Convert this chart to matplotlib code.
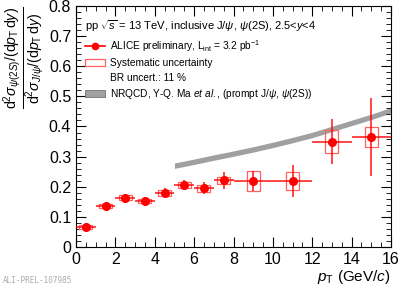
import numpy as np
import matplotlib
matplotlib.use('Agg')
from matplotlib import pyplot as plt
from matplotlib.patches import Rectangle, Patch
from matplotlib.lines import Line2D
from matplotlib.ticker import MultipleLocator

plt.rcParams['font.family'] = ['Liberation Sans', 'DejaVu Sans']
plt.rcParams['mathtext.fontset'] = 'custom'
plt.rcParams['mathtext.rm'] = 'Liberation Sans'
plt.rcParams['mathtext.it'] = 'Liberation Sans:italic'
plt.rcParams['mathtext.bf'] = 'Liberation Sans:bold'

# ===== данные =====
pt_lo = [0, 1, 2, 3, 4, 5, 6, 7, 8, 10, 12, 14]
pt_hi = [1, 2, 3, 4, 5, 6, 7, 8, 10, 12, 14, 16]
pt_c = [0.5, 1.5, 2.5, 3.5, 4.5, 5.5, 6.5, 7.5, 9, 11, 13, 15]
ratio = [0.067, 0.137, 0.163, 0.153, 0.180, 0.206, 0.195, 0.222, 0.218, 0.219, 0.350, 0.366]
stat = [0.012, 0.008, 0.012, 0.012, 0.017, 0.018, 0.020, 0.028, 0.033, 0.052, 0.076, 0.130]
syst = [0.006, 0.006, 0.008, 0.007, 0.010, 0.010, 0.012, 0.012, 0.033, 0.030, 0.037, 0.033]
box_hw = 0.33

nrqcd_pt = [5, 6, 7, 8, 9, 10, 11, 12, 13, 14, 15, 16]
nrqcd_c = [0.270, 0.283, 0.297, 0.310, 0.324, 0.339, 0.355, 0.372, 0.392, 0.412, 0.432, 0.454]
nrqcd_hw = 0.009

fig = plt.figure(figsize=(3.99, 2.89), dpi=100)
ax = fig.add_axes([0.1905, 0.1453, 0.7895, 0.8340])

# ---- NRQCD полоса ----
nc = np.array(nrqcd_c)
ax.fill_between(nrqcd_pt, nc - nrqcd_hw, nc + nrqcd_hw, color='#a0a0a0', lw=0, zorder=1)

# ---- систематика ----
for x, y, s in zip(pt_c, ratio, syst):
    ax.add_patch(Rectangle((x - box_hw, y - s), 2 * box_hw, 2 * s,
                           fill=False, ec='#ff6060', lw=0.9, zorder=2))

# ---- точки ----
x = np.array(pt_c)
xerr = [x - np.array(pt_lo), np.array(pt_hi) - x]
ax.errorbar(pt_c, ratio, xerr=xerr, yerr=stat, fmt='none', ecolor='red',
            elinewidth=1.2, capsize=0, alpha=0.85, zorder=3)
ax.plot(pt_c, ratio, 'o', color='red', ms=5.5, zorder=4)

ax.set_xlim(0, 16)
ax.set_ylim(0, 0.8)
ax.xaxis.set_major_locator(MultipleLocator(2))
ax.xaxis.set_minor_locator(MultipleLocator(0.5))
ax.yaxis.set_major_locator(MultipleLocator(0.1))
ax.yaxis.set_minor_locator(MultipleLocator(0.02))
ax.tick_params(which='both', direction='in', top=True, right=True, labelsize=11.5)
ax.tick_params(which='major', length=7)
ax.tick_params(which='minor', length=3.5)
ax.set_yticks([0, 0.1, 0.2, 0.3, 0.4, 0.5, 0.6, 0.7, 0.8])
ax.set_yticklabels(['0', '0.1', '0.2', '0.3', '0.4', '0.5', '0.6', '0.7', '0.8'])
ax.set_xticks([0, 2, 4, 6, 8, 10, 12, 14, 16])
ax.set_xticklabels(['0', '2', '4', '6', '8', '10', '12', '14', '16'])

ax.set_xlabel(r'$p_{\mathrm{T}}$ (GeV/$c$)', fontsize=11, loc='right', labelpad=1)
ax.set_ylabel(r'$\frac{\mathrm{d}^2\sigma_{\psi(2S)}/(\mathrm{d}p_{\mathrm{T}}\,\mathrm{d}y)}'
              r'{\mathrm{d}^2\sigma_{J/\psi}/(\mathrm{d}p_{\mathrm{T}}\,\mathrm{d}y)}$',
              fontsize=14.5, loc='top', labelpad=1)

ax.text(0.03, 0.915, r'pp $\sqrt{s}$ = 13 TeV, inclusive J/$\psi$, $\psi$(2S), 2.5<$y$<4',
        transform=ax.transAxes, fontsize=8, va='center')

# ---- легенда ----
handles = [
    Line2D([], [], color='red', marker='o', ms=4.5, lw=1.2),
    Patch(fc='white', ec='#ff6060', lw=0.9),
    Line2D([], [], color='none'),
    Patch(fc='#a0a0a0', ec='#606060', lw=0.5),
]
labels = [
    r'ALICE preliminary, L$_{\rm int}$ = 3.2 pb$^{-1}$',
    'Systematic uncertainty',
    'BR uncert.: 11 %',
    r'NRQCD, Y-Q. Ma $et\ al.$, (prompt J/$\psi$, $\psi$(2S))',
]
ax.legend(handles, labels, loc='upper left', bbox_to_anchor=(0.015, 0.885),
          frameon=False, fontsize=7.3, handlelength=2.0, handletextpad=0.5,
          labelspacing=0.45, borderaxespad=0)

fig.text(0.008, 0.022, 'ALI-PREL-107985', fontsize=5.5, color='#aaaaaa',
         family='DejaVu Sans Mono')

fig.savefig('out.png', dpi=100)
